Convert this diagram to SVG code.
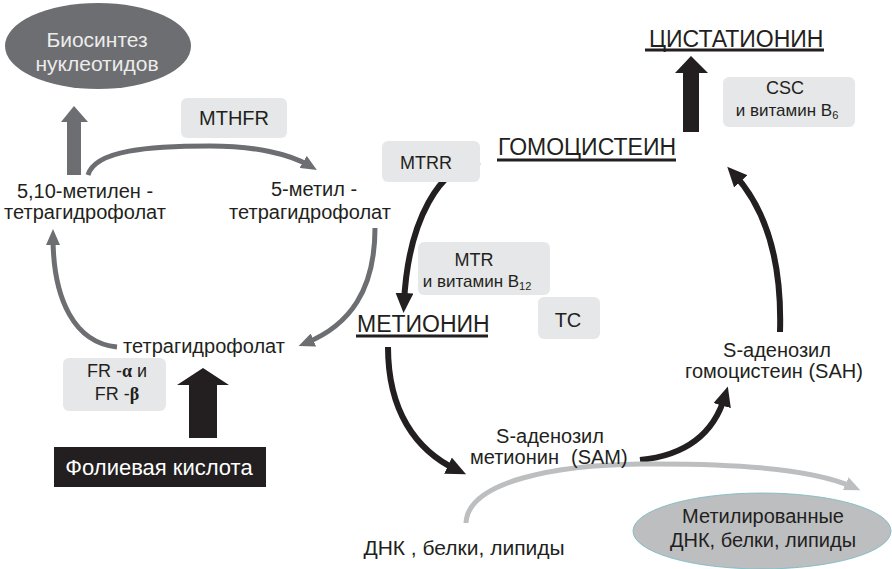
<svg xmlns="http://www.w3.org/2000/svg" width="892" height="569" viewBox="0 0 892 569">
<style>
text{font-family:"Liberation Sans",Arial,sans-serif;fill:#231f20}
.t19{font-size:20px}
.t18{font-size:18px}
.t15{font-size:17px}
.big{font-size:23px}
.box{fill:#e6e7e8}
.dg{fill:none;stroke:#6d6e71;stroke-width:5}
.bk{fill:none;stroke:#231f20;stroke-width:6}
.lg{fill:none;stroke:#bcbec0;stroke-width:5}
.ul{stroke:#231f20;stroke-width:3}
</style>
<defs>
<marker id="mg" markerUnits="userSpaceOnUse" markerWidth="16" markerHeight="14" refX="8" refY="7" orient="auto"><path d="M0,0 L16,7 L0,14 z" fill="#6d6e71"/></marker>
<marker id="mb" markerUnits="userSpaceOnUse" markerWidth="20" markerHeight="18" refX="10" refY="9" orient="auto"><path d="M0,0 L20,9 L0,18 z" fill="#231f20"/></marker>
<marker id="ml" markerUnits="userSpaceOnUse" markerWidth="16" markerHeight="14" refX="8" refY="7" orient="auto"><path d="M0,0 L16,7 L0,14 z" fill="#bcbec0"/></marker>
</defs>
<rect width="892" height="569" fill="#fff"/>

<g id="connectors">
<path class="dg" d="M88,175 C95,150 150,146 210,146 C255,146 290,154 310,166" marker-end="url(#mg)"/>
<path class="dg" d="M375,228 C375,290 350,325 306,343" marker-end="url(#mg)"/>
<path class="dg" d="M117,347 C75,343 53,300 53,237" marker-end="url(#mg)"/>
<path class="bk" d="M480,162 C440,165 408,220 404,303" marker-end="url(#mb)"/>
<path class="bk" d="M388,347 C388,410 415,450 457,470" marker-end="url(#mb)"/>
<path class="bk" d="M640,460 C690,455 715,430 725,396" marker-end="url(#mb)"/>
<path class="bk" d="M780,332 C782,265 767,210 734,174" marker-end="url(#mb)"/>
<path class="lg" d="M466,523 C468,480 560,465 640,464 C740,463 815,470 853,487" marker-end="url(#ml)"/>
<polygon points="74,106 88,122 81,122 81,175 67,175 67,122 61,122" fill="#6d6e71"/>
<polygon points="203,368 229,385 217,385 217,438 189,438 189,385 177,385" fill="#231f20"/>
<polygon points="691,56 708,73 699,73 699,132 683,132 683,73 675,73" fill="#231f20"/>
</g>

<g id="biosynthesis">
<ellipse cx="98" cy="46" rx="93" ry="43" fill="#6d6e71"/>
<text x="97" y="47" text-anchor="middle" style="fill:#ececec;font-size:21px">Биосинтез</text>
<text x="97" y="71" text-anchor="middle" style="fill:#ececec;font-size:21px">нуклеотидов</text>
</g>

<g id="mthfr">
<rect class="box" x="181" y="98" width="106" height="40" rx="6"/>
<text class="t19" x="234" y="125" text-anchor="middle">MTHFR</text>
</g>

<g id="methylene-thf">
<text class="t19" x="85" y="198" text-anchor="middle">5,10-метилен -</text>
<text class="t19" x="85" y="219" text-anchor="middle">тетрагидрофолат</text>
</g>

<g id="methyl-thf">
<text class="t19" x="314" y="196" text-anchor="middle">5-метил -</text>
<text class="t19" x="310" y="219" text-anchor="middle">тетрагидрофолат</text>
</g>

<g id="thf">
<text class="t19" x="204" y="353" text-anchor="middle">тетрагидрофолат</text>
</g>

<g id="fr">
<rect class="box" x="63" y="358" width="103" height="53" rx="6"/>
<text class="t18" x="117" y="377" text-anchor="middle">FR -<tspan style="font-family:'Liberation Serif',serif;font-weight:bold">α</tspan> и</text>
<text class="t18" x="117" y="400" text-anchor="middle">FR -<tspan style="font-family:'Liberation Serif',serif;font-weight:bold">β</tspan></text>
</g>

<g id="folic">
<rect x="54" y="447" width="212" height="40" fill="#231f20"/>
<text x="159" y="475" text-anchor="middle" style="fill:#fff;font-size:22px">Фолиевая кислота</text>
</g>

<g id="mtrr">
<rect class="box" x="382" y="141" width="98" height="41" rx="6"/>
<text class="t18" x="426" y="169" text-anchor="middle">MTRR</text>
</g>

<g id="homocysteine">
<text class="big" x="498" y="155">ГОМОЦИСТЕИН</text>
<line class="ul" x1="497" y1="160" x2="676" y2="160"/>
</g>

<g id="cystathionine">
<text class="big" x="649" y="47">ЦИСТАТИОНИН</text>
<line class="ul" x1="645" y1="50" x2="824" y2="50"/>
</g>

<g id="csc">
<rect class="box" x="723" y="77" width="132" height="50" rx="6"/>
<text class="t18" x="785" y="94" text-anchor="middle">CSC</text>
<text class="t15" x="787" y="116" text-anchor="middle">и витамин B<tspan style="font-size:11px" dy="3">6</tspan></text>
</g>

<g id="mtr">
<rect class="box" x="418" y="242" width="132" height="53" rx="6"/>
<text class="t18" x="474" y="266" text-anchor="middle">MTR</text>
<text class="t15" x="477" y="287" text-anchor="middle">и витамин B<tspan style="font-size:11px" dy="3">12</tspan></text>
</g>

<g id="tc">
<rect class="box" x="538" y="297" width="62" height="42" rx="6"/>
<text class="t19" x="568" y="327" text-anchor="middle">TC</text>
</g>

<g id="methionine">
<text class="big" x="357" y="332">МЕТИОНИН</text>
<line class="ul" x1="356" y1="336" x2="488" y2="336"/>
</g>

<g id="sam">
<text class="t19" x="550" y="443" text-anchor="middle">S-аденозил</text>
<text class="t19" x="470" y="464">метионин <tspan x="571">(SAM)</tspan></text>
</g>

<g id="sah">
<text class="t19" x="777" y="357" text-anchor="middle">S-аденозил</text>
<text class="t19" x="774" y="378" text-anchor="middle">гомоцистеин (SAH)</text>
</g>

<g id="dna">
<text x="464" y="555" text-anchor="middle" style="font-size:21px">ДНК , белки, липиды</text>
</g>

<g id="methylated">
<ellipse cx="762" cy="531" rx="129" ry="38" fill="#bcbec0" stroke="#6fb8c0" stroke-width="0.8"/>
<text class="t19" x="763" y="523" text-anchor="middle">Метилированные</text>
<text class="t19" x="763" y="547" text-anchor="middle">ДНК,  белки, липиды</text>
</g>
</svg>
